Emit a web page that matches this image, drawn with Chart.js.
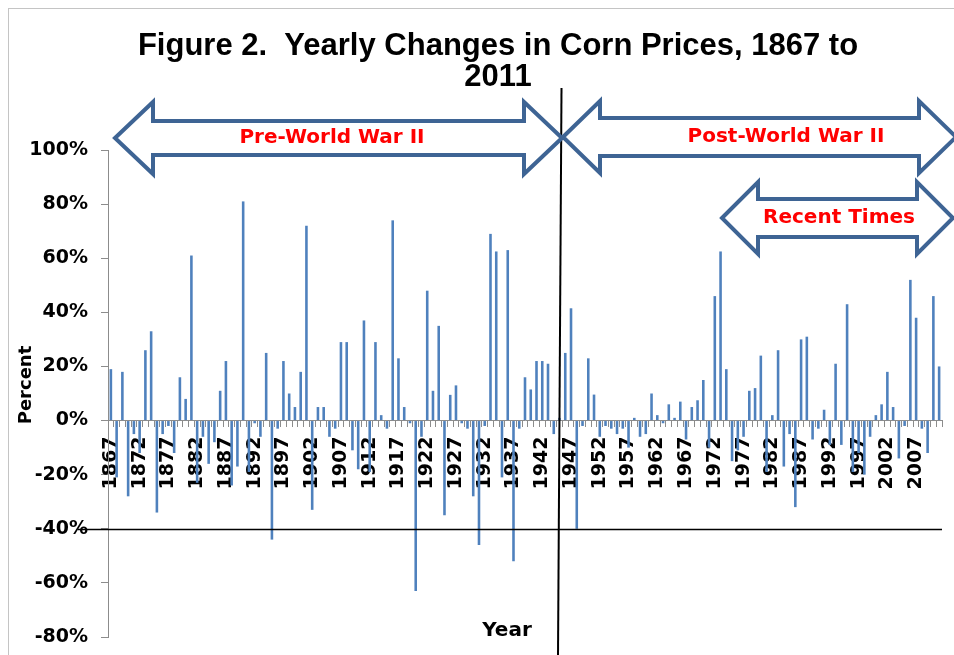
<!DOCTYPE html>
<html>
<head>
<meta charset="utf-8">
<title>Yearly Changes in Corn Prices, 1867 to 2011</title>
<script src="https://cdn.jsdelivr.net/npm/chart.js@4.4.1/dist/chart.umd.min.js"></script>
<style>
  html, body { margin: 0; padding: 0; background: #fff; }
  #wrap { width: 954px; height: 655px; }
</style>
</head>
<body>
<div id="wrap"><canvas id="cornChart" width="954" height="655"></canvas></div>
<script>
// years 1867..2011, one bar each
const years = [];
for (let y = 1867; y <= 2011; y++) years.push(String(y));

// yearly % change in corn price
const changes1867to1906 = [
  19, -21, 18, -28, -5, -12, 26, 33, -34, -5,
  -2, -12, 16, 8, 61, -23, -6, -16, -8, 11,
  22, -24, -17, 81, -19, -1, -6, 25, -44, -3,
  22, 10, 5, 18, 72, -33, 5, 5, -6, -3
];
const changes1907to1945 = [
  29, 29, -11, -18, 37, -19, 29, 2, -3, 74,
  23, 5, -1, -63, -6, 48, 11, 35, -35, 9.5,
  13, -1, -3, -28, -46, -2, 69, 62.5, -21, 63,
  -52, -3, 16, 11.5, 22, 22, 21, -5, 1
];
const changes1946to1980 = [
  25, 41.5, -40, -2, 23, 9.6, -6, -2, -3, -5,
  -3, -10, 1, -6, -5, 10, 2, -1, 6, 1,
  7, -7, 5, 7.5, 15, -10, 46, 62.5, 19, -15,
  -11, -6, 11, 12, 24
];
const changes1981to2011 = [
  -19, 2, 26, -17, -5, -32, 30, 31, -7, -3,
  4, -9, 21, -9, 43, -19, -12, -20, -6, 2,
  6, 18, 5, -14, -2, 52, 38, -3, -12, 46, 20
];
const priceChange = changes1867to1906.concat(changes1907to1945, changes1946to1980, changes1981to2011);

const yTickValues = [-80, -60, -40, -20, 0, 20, 40, 60, 80, 100];
const titleLines = ['Figure 2.  Yearly Changes in Corn Prices, 1867 to', '2011'];
const eraLabels = ['Pre-World War II', 'Post-World War II', 'Recent Times'];

const blue = '#4F81BD';
const arrowBlue = '#3E6494';
const axisGray = '#8c8c8c';

function doubleArrow(ctx, x1, x2, cy, head, headHalf, shaftHalf) {
  ctx.beginPath();
  ctx.moveTo(x1, cy);
  ctx.lineTo(x1 + head, cy - headHalf);
  ctx.lineTo(x1 + head, cy - shaftHalf);
  ctx.lineTo(x2 - head, cy - shaftHalf);
  ctx.lineTo(x2 - head, cy - headHalf);
  ctx.lineTo(x2, cy);
  ctx.lineTo(x2 - head, cy + headHalf);
  ctx.lineTo(x2 - head, cy + shaftHalf);
  ctx.lineTo(x1 + head, cy + shaftHalf);
  ctx.lineTo(x1 + head, cy + headHalf);
  ctx.closePath();
  ctx.fillStyle = '#fff';
  ctx.fill();
  ctx.lineJoin = 'miter';
  ctx.lineWidth = 4;
  ctx.strokeStyle = arrowBlue;
  ctx.stroke();
}

const decorations = {
  id: 'decorations',
  beforeDraw(chart) {
    const ctx = chart.ctx;
    ctx.save();
    ctx.fillStyle = '#fff';
    ctx.fillRect(0, 0, chart.width, chart.height);
    ctx.strokeStyle = '#c4c4c4';
    ctx.lineWidth = 1;
    ctx.strokeRect(8.5, 8.5, chart.width + 20, chart.height + 20);
    ctx.restore();
  },
  afterDraw(chart) {
    const ctx = chart.ctx;
    const yScale = chart.scales.y;
    const area = chart.chartArea;
    ctx.save();

    // line at -40%
    const y40 = Math.round(yScale.getPixelForValue(-40)) + 0.5;
    ctx.strokeStyle = '#000';
    ctx.lineWidth = 1.3;
    ctx.beginPath();
    ctx.moveTo(78, y40);
    ctx.lineTo(area.right, y40);
    ctx.stroke();

    // war divider
    ctx.lineWidth = 2;
    ctx.beginPath();
    ctx.moveTo(561.5, 88);
    ctx.lineTo(558, chart.height);
    ctx.stroke();

    // era arrows
    doubleArrow(ctx, 115, 562, 138, 38, 36, 17);
    doubleArrow(ctx, 563, 956, 137, 37, 36, 19);
    doubleArrow(ctx, 722, 953, 218, 36, 36, 19);

    ctx.fillStyle = '#ff0000';
    ctx.font = 'bold 20px "DejaVu Sans", Verdana, sans-serif';
    ctx.textAlign = 'center';
    ctx.textBaseline = 'middle';
    ctx.fillText(eraLabels[0], 332, 138);
    ctx.fillText(eraLabels[1], 786, 137);
    ctx.fillText(eraLabels[2], 839, 218);

    // title
    ctx.fillStyle = '#000';
    ctx.font = 'bold 31px "Liberation Sans", Arial, sans-serif';
    ctx.fillText(titleLines[0], 498, 46);
    ctx.fillText(titleLines[1], 498, 77);

    // axis titles
    ctx.font = 'bold 20px "DejaVu Sans", Verdana, sans-serif';
    ctx.fillText('Year', 507, 631);
    ctx.translate(26, 385);
    ctx.rotate(-Math.PI / 2);
    ctx.font = 'bold 18px "DejaVu Sans", Verdana, sans-serif';
    ctx.fillText('Percent', 0, 0);
    ctx.restore();
  }
};

const ctx = document.getElementById('cornChart').getContext('2d');
const cornChart = new Chart(ctx, {
  type: 'bar',
  data: {
    labels: years,
    datasets: [{
      label: 'Yearly change',
      data: priceChange,
      backgroundColor: blue,
      borderWidth: 0,
      barPercentage: 0.45,
      categoryPercentage: 1.0
    }]
  },
  options: {
    responsive: false,
    animation: false,
    devicePixelRatio: 1,
    layout: { padding: { top: 150, right: 12, bottom: 18, left: 0 } },
    plugins: {
      legend: { display: false },
      tooltip: { enabled: false },
      title: { display: false }
    },
    scales: {
      x: {
        position: { y: 0 },
        z: 1,
        offset: true,
        grid: {
          display: true,
          drawOnChartArea: false,
          drawTicks: true,
          tickLength: 6,
          color: axisGray,
          offset: true
        },
        border: { display: true, color: axisGray, width: 1 },
        ticks: {
          autoSkip: false,
          maxRotation: 90,
          minRotation: 90,
          padding: 10,
          color: '#000',
          font: { family: '"DejaVu Sans", Verdana, sans-serif', weight: 'bold', size: 19 },
          callback: (val, i) => (i % 5 === 0 ? years[i] : '')
        },
        afterFit(scale) {
          scale.paddingLeft = 0;
          scale.paddingRight = 0;
        }
      },
      y: {
        min: -80,
        max: 100,
        afterBuildTicks(scale) {
          scale.ticks = yTickValues.map(v => ({ value: v }));
        },
        grid: {
          display: true,
          drawOnChartArea: false,
          tickLength: 7,
          color: axisGray
        },
        border: { display: true, color: axisGray, width: 1 },
        ticks: {
          padding: 13,
          color: '#000',
          font: { family: '"DejaVu Sans", Verdana, sans-serif', weight: 'bold', size: 19 },
          callback: v => v + '%'
        },
        afterFit(scale) {
          scale.width = 108;
          scale.paddingTop = 0;
          scale.paddingBottom = 0;
        }
      }
    }
  },
  plugins: [decorations]
});
</script>
</body>
</html>
